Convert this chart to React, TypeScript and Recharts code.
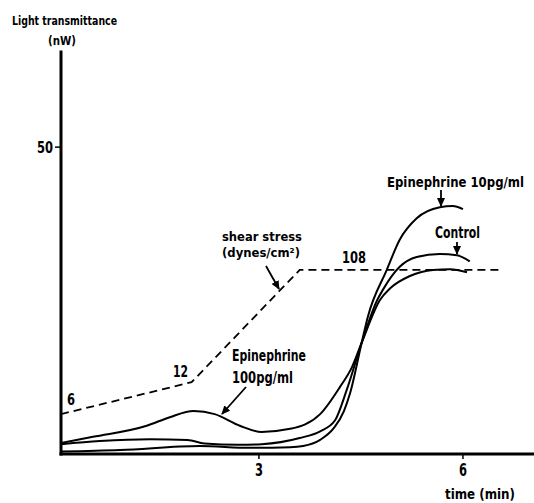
import React from 'react';
import { LineChart, Line, XAxis, YAxis, Customized } from 'recharts';

const FONT = "'Liberation Sans Narrow', 'DejaVu Sans Condensed', 'Liberation Sans', sans-serif";

// time (min)
const timeTicks = [3, 6];
const yTicks = [50];

// Epinephrine 100pg/ml
const epi100Time = [0.09, 0.56, 1.35, 1.69, 2.04, 2.35, 2.72, 3.04, 3.46, 3.9, 4.19, 4.37, 4.51, 4.78, 4.93, 5.22, 5.56, 5.81, 6.06];
const epi100Value = [1.8, 2.8, 4.6, 6.0, 7.0, 6.5, 4.6, 3.6, 4.1, 6.5, 10.9, 14.2, 18.1, 25.1, 27.0, 29.0, 30.0, 30.1, 29.6];

// Control
const controlTime = [0.09, 0.66, 1.4, 1.95, 2.2, 2.69, 3.04, 3.6, 3.9, 4.12, 4.29, 4.51, 4.74, 4.82, 5.07, 5.32, 5.66, 5.91, 6.1];
const controlValue = [1.6, 2.1, 2.4, 2.3, 1.7, 1.5, 1.6, 2.6, 3.7, 5.5, 10.4, 18.1, 25.1, 26.7, 30.5, 32.1, 32.6, 32.4, 31.4];

// Epinephrine 10pg/ml
const epi10Time = [0.09, 0.96, 2.13, 2.87, 3.46, 3.65, 3.9, 4.1, 4.25, 4.34, 4.51, 4.6, 4.88, 5.07, 5.32, 5.66, 5.85, 6.0];
const epi10Value = [0.4, 0.65, 1.3, 1.0, 1.1, 1.3, 2.3, 4.2, 7.0, 9.9, 18.1, 22.3, 30.0, 34.9, 38.4, 40.2, 40.4, 39.9];

// shear stress (dynes/cm²): 6 -> 12 -> 108
const shearTime = [0.09, 2.01, 3.6, 6.57];
const shearValue = [6.5, 11.7, 30.0, 30.0];
const shearLabels = ['6', '12', '108'];

const rows = (t: number[], v: number[]) => t.map((x, i) => ({ t: x, v: v[i] }));

const Txt = ({ x, y, w, size, anchor = 'start', children }: any) => (
  <text
    x={x}
    y={y}
    fontSize={size}
    fontWeight="bold"
    fontFamily={FONT}
    textLength={w}
    lengthAdjust="spacingAndGlyphs"
    textAnchor={anchor}
    fill="#000"
  >
    {children}
  </text>
);

const Arrow = ({ x1, y1, x2, y2 }: any) => (
  <line x1={x1} y1={y1} x2={x2} y2={y2} stroke="#000" strokeWidth={1.8} markerEnd="url(#arrowHead)" />
);

const Annotations = () => (
  <g>
    <defs>
      <marker id="arrowHead" markerUnits="userSpaceOnUse" markerWidth="9" markerHeight="8" refX="8" refY="4" orient="auto">
        <path d="M0,0 L9,4 L0,8 Z" fill="#000" />
      </marker>
    </defs>
    <Txt x={12} y={25} w={105} size={13}>Light transmittance</Txt>
    <Txt x={48} y={45} w={28} size={13}>(nW)</Txt>
    <Txt x={445} y={499} w={70} size={14}>time (min)</Txt>

    <Txt x={67} y={405} w={8} size={15}>{shearLabels[0]}</Txt>
    <Txt x={173} y={377} w={15} size={15}>{shearLabels[1]}</Txt>
    <Txt x={342} y={263} w={24} size={15}>{shearLabels[2]}</Txt>

    <Txt x={222} y={241} w={80} size={13}>shear stress</Txt>
    <Txt x={222} y={257} w={78} size={13}>(dynes/cm²)</Txt>
    <Arrow x1={266} y1={266} x2={279} y2={289} />

    <Txt x={387} y={187} w={137} size={14}>Epinephrine 10pg/ml</Txt>
    <Arrow x1={441} y1={190} x2={441} y2={206} />

    <Txt x={435} y={238} w={45} size={15}>Control</Txt>
    <Arrow x1={457} y1={242} x2={457} y2={254} />

    <Txt x={232} y={361} w={74} size={15}>Epinephrine</Txt>
    <Txt x={232} y={383} w={61} size={15}>100pg/ml</Txt>
    <Arrow x1={246} y1={387} x2={222} y2={414} />
  </g>
);

const XTick = ({ x, y, payload }: any) => (
  <Txt x={x} y={y + 15} w={8} size={17} anchor="middle">{String(payload.value)}</Txt>
);

const YTick = ({ x, y, payload }: any) => (
  <Txt x={x} y={y + 6} w={16} size={15} anchor="end">{String(payload.value)}</Txt>
);

export default function App() {
  return (
    <div style={{ position: 'absolute', left: 0, top: 0, background: '#fff' }}>
      <LineChart width={534} height={503} margin={{ top: 52, right: 1, left: 1, bottom: 19 }}>
        <XAxis
          type="number"
          dataKey="t"
          domain={[0.09, 7.03]}
          allowDataOverflow
          ticks={timeTicks}
          tick={<XTick />}
          tickSize={5}
          tickLine={{ stroke: '#000', strokeWidth: 1.5 }}
          axisLine={{ stroke: '#000', strokeWidth: 3, strokeLinecap: 'square' }}
          height={30}
        />
        <YAxis
          type="number"
          dataKey="v"
          domain={[0, 65.5]}
          allowDataOverflow
          ticks={yTicks}
          tick={<YTick />}
          tickSize={6}
          tickLine={{ stroke: '#000', strokeWidth: 1.5 }}
          axisLine={{ stroke: '#000', strokeWidth: 3, strokeLinecap: 'square' }}
          width={60}
        />
        <Line data={rows(shearTime, shearValue)} dataKey="v" type="linear" stroke="#000" strokeWidth={1.8} strokeDasharray="8 5" dot={false} isAnimationActive={false} />
        <Line data={rows(epi100Time, epi100Value)} dataKey="v" type="monotone" stroke="#000" strokeWidth={2} dot={false} isAnimationActive={false} />
        <Line data={rows(controlTime, controlValue)} dataKey="v" type="monotone" stroke="#000" strokeWidth={2} dot={false} isAnimationActive={false} />
        <Line data={rows(epi10Time, epi10Value)} dataKey="v" type="monotone" stroke="#000" strokeWidth={2} dot={false} isAnimationActive={false} />
        <Customized component={Annotations} />
      </LineChart>
    </div>
  );
}
